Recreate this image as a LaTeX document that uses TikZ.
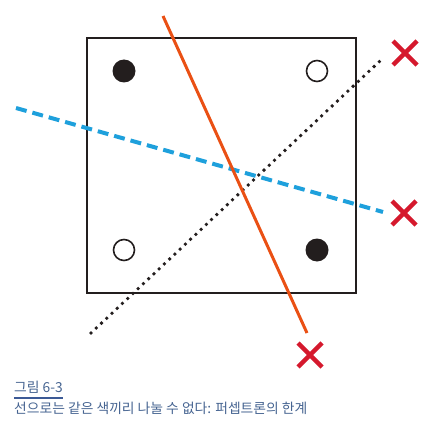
\documentclass[tikz,border=0pt]{standalone}
\usepackage{fontspec}
\newfontfamily\cjk{Noto Sans CJK KR}
\definecolor{boxblack}{RGB}{35,30,30}
\definecolor{lineorange}{RGB}{234,80,20}
\definecolor{lineblue}{RGB}{30,160,220}
\definecolor{crossred}{RGB}{213,25,45}
\definecolor{captxt}{RGB}{70,100,145}
\definecolor{capline}{RGB}{60,90,150}
\tikzset{
  px/.style={x=1pt,y=-1pt},
  dotfill/.style={circle,fill=boxblack,minimum size=23pt,inner sep=0pt},
  dotopen/.style={circle,draw=boxblack,line width=1.6pt,fill=white,minimum size=21pt,inner sep=0pt},
  crossmark/.style={draw=crossred,line width=4.5pt},
  captext/.style={anchor=base west,inner sep=0pt,text=captxt,font=\cjk\fontsize{13.8}{15}\selectfont}
}
\begin{document}
\begin{tikzpicture}[px]
\useasboundingbox (0,0) rectangle (444,425);
% box
\draw[boxblack,line width=2.6pt] (87,38) rectangle (356,293);
% points
\node[dotfill] (p1) at (124,71) {};
\node[dotopen] (p2) at (317,71) {};
\node[dotopen] (p3) at (124,250) {};
\node[dotfill] (p4) at (317,250) {};
% line endpoints
\coordinate (oA) at (163,16);
\coordinate (oB) at (307,333);
\coordinate (bA) at (16,108);
\coordinate (bB) at (383,212);
\coordinate (kA) at (91,333);
\coordinate (kB) at (381,60);
\draw[lineblue,line width=4pt,dash pattern=on 11pt off 6pt] (bA) -- (bB);
\draw[boxblack,line width=3.8pt,line cap=round,dash pattern=on 0pt off 7.2pt] (kA) -- (kB);
\draw[lineorange,line width=3pt] (oA) -- (oB);
% crosses
\foreach \n/\cx/\cy in {x1/405/53,x2/404/213,x3/310/355}{
  \coordinate (\n) at (\cx,\cy);
  \draw[crossmark] ([shift={(-12,-12)}]\n) -- ([shift={(12,12)}]\n);
  \draw[crossmark] ([shift={(-12,12)}]\n) -- ([shift={(12,-12)}]\n);
}
% caption
\node[captext] (cap1) at (14,392) {그림 6-3};
\draw[capline,line width=1.3pt] (14,398) -- (63,398);
\node[captext] (cap2) at (14,413) {선으로는 같은 색끼리 나눌 수 없다: 퍼셉트론의 한계};
\end{tikzpicture}
\end{document}
